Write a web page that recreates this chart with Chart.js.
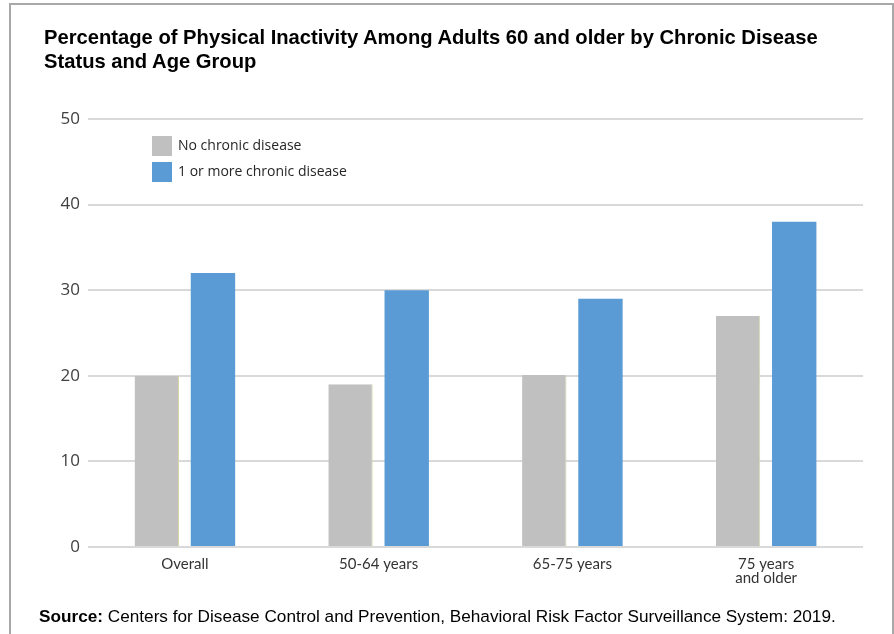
<!DOCTYPE html>
<html>
<head>
<meta charset="utf-8">
<script src="https://cdn.jsdelivr.net/npm/chart.js@4"></script>
<style>
  body { margin: 0; background: #fff; }
  #wrap { position: relative; width: 894px; height: 634px; overflow: hidden; }
  #frame { position: absolute; left: 9px; top: 3px; width: 881px; height: 700px; border: 2px solid #a8a8a8; }
  #title { position: absolute; left: 44px; top: 25px; margin: 0; font: bold 20.2px "Liberation Sans", Arial, sans-serif; line-height: 24px; color: #000; }
  #source { position: absolute; left: 39px; top: 608px; margin: 0; font: 17.2px "Liberation Sans", Arial, sans-serif; line-height: 17px; color: #000; white-space: nowrap; }
  canvas { position: absolute; left: 0; top: 0; }
</style>
</head>
<body>
<div id="wrap">
  <div id="frame"></div>
  <canvas id="chart" width="894" height="634"></canvas>
  <p id="title">Percentage of Physical Inactivity Among Adults 60 and older by Chronic Disease<br>Status and Age Group</p>
  <p id="source"><b>Source:</b> Centers for Disease Control and Prevention, Behavioral Risk Factor Surveillance System: 2019.</p>
</div>
<script>
// === Dados do gráfico ===
const categories = ['Overall', '50-64 years', '65-75 years', ['75 years', 'and older']];
const noChronic = [20, 19, 20.1, 27];
const withChronic = [32, 30, 29, 38];
const yTicks = [0, 10, 20, 30, 40, 50];

// Legenda desenhada dentro da área do gráfico
const insideLegend = {
  id: 'insideLegend',
  afterDraw(chart) {
    const ctx = chart.ctx;
    const area = chart.chartArea;
    const x = area.left + 64;
    let y = area.top + 17;
    ctx.save();
    ctx.font = '14px "Open Sans", sans-serif';
    ctx.textBaseline = 'middle';
    chart.data.datasets.forEach(ds => {
      ctx.fillStyle = ds.backgroundColor;
      ctx.fillRect(x, y, 20, 20);
      ctx.fillStyle = '#262626';
      ctx.fillText(ds.label, x + 26, y + 10);
      y += 26;
    });
    ctx.restore();
  }
};

new Chart(document.getElementById('chart'), {
  type: 'bar',
  data: {
    labels: categories,
    datasets: [{
      label: 'No chronic disease',
      data: noChronic,
      backgroundColor: '#c0c0c0',
      borderColor: '#d6d6a6',
      borderWidth: { top: 0, right: 1, bottom: 0, left: 0 },
      barPercentage: 0.79,
      categoryPercentage: 0.58
    }, {
      label: '1 or more chronic disease',
      data: withChronic,
      backgroundColor: '#5b9bd5',
      borderWidth: 0,
      barPercentage: 0.79,
      categoryPercentage: 0.58
    }]
  },
  options: {
    responsive: false,
    animation: false,
    layout: { padding: { left: 58, right: 31, top: 119, bottom: 47 } },
    plugins: {
      legend: { display: false },
      tooltip: { enabled: false }
    },
    scales: {
      x: {
        grid: { display: false, drawTicks: false },
        border: { display: false },
        ticks: {
          color: '#333',
          padding: 10,
          font: { family: 'Lato', size: 15, lineHeight: 0.92 },
          maxRotation: 0
        },
        afterFit(axis) { axis.height = 40; }
      },
      y: {
        min: 0,
        max: 50,
        afterBuildTicks(axis) { axis.ticks = yTicks.map(v => ({ value: v })); },
        grid: { color: '#d9d9d9', lineWidth: 2, drawTicks: false },
        border: { display: false },
        ticks: {
          color: '#404040',
          padding: 8,
          font: { family: 'Open Sans', size: 17 }
        },
        afterFit(axis) { axis.width = 30; }
      }
    }
  },
  plugins: [insideLegend]
});
</script>
</body>
</html>
